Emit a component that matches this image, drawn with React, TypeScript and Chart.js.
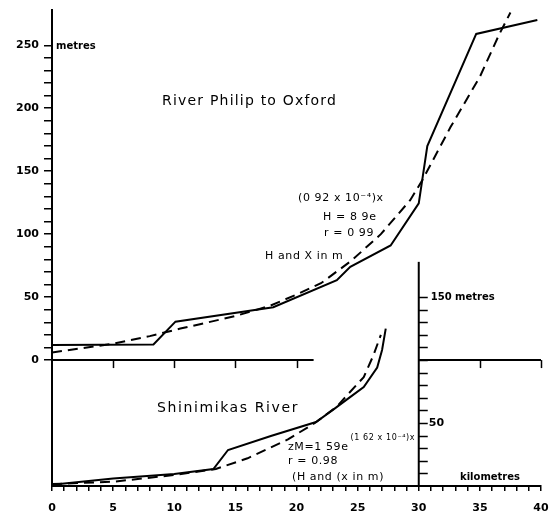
import React, { useEffect, useRef } from "react";
import { Chart, registerables } from "chart.js";

Chart.register(...registerables);

// River Philip to Oxford: surveyed long profile (distance km, height m)
const philipKm = [0, 8.3, 10.1, 18.1, 23.3, 24.4, 27.7, 30.0, 30.7, 34.7, 39.7];
const philipM = [12, 12.4, 30.5, 42, 63.5, 74, 91, 124.5, 170, 259, 270];
// River Philip fitted exponential profile
const philipFitKm = [0, 2.5, 5, 8, 10.5, 12.1, 15, 17.8, 20, 22, 24.5, 26.9, 29.3, 30.3, 32.6, 35, 36.6, 37.5];
const philipFitM = [6, 9.5, 13, 19, 25, 28.5, 35, 43, 52, 61, 79, 100, 127, 143, 185, 225, 259, 276];

// Shinimikas River: surveyed long profile
const shinKm = [0, 5, 10, 13.2, 14.4, 17.9, 21.6, 23.2, 24.3, 25.5, 26.6, 27.0, 27.3];
const shinM = [1, 6, 9.5, 13.5, 28.6, 39.7, 50.8, 62, 70, 78.6, 94, 108, 125];
// Shinimikas River fitted exponential profile
const shinFitKm = [0, 5, 10, 13.4, 16, 19.3, 21.5, 23.3, 24.0, 25.5, 26.3, 26.9];
const shinFitM = [1.5, 3.4, 8.7, 13.5, 22, 37, 50, 63, 70.6, 86.5, 104, 120];

// axis ticks
const upperHeightLabels = [0, 50, 100, 150, 200, 250];
const upperBaseSpans = [[0, 21.4], [30, 40]];
const upperBaseTicks = [5, 10, 15, 20, 35, 40];
const lowerAxisKm = 30;
const lowerAxisTop = 178;
const lowerAxisTicks = [10, 20, 30, 40, 50, 60, 70, 80, 90, 100, 110, 120, 130, 140, 150];

const FONT = "DejaVu Sans";

const toPoints = (xs: number[], ys: number[]) => xs.map((v, i) => ({ x: v, y: ys[i] }));

const profileArt = {
  id: "profileArt",
  afterDraw(chart: any) {
    const { ctx, scales } = chart;
    const x = scales.x;
    const y = scales.y;
    const yLow = scales.yLow;
    ctx.save();
    ctx.strokeStyle = "#000";
    ctx.fillStyle = "#000";
    ctx.lineWidth = 2;
    ctx.lineCap = "butt";

    // baseline of the upper profile
    const y0 = y.getPixelForValue(0);
    upperBaseSpans.forEach(([a, b]) => {
      ctx.beginPath();
      ctx.moveTo(x.getPixelForValue(a), y0);
      ctx.lineTo(x.getPixelForValue(b), y0);
      ctx.stroke();
    });
    ctx.lineWidth = 1.5;
    upperBaseTicks.forEach((k) => {
      const px = Math.round(x.getPixelForValue(k)) + 0.5;
      ctx.beginPath();
      ctx.moveTo(px, y0);
      ctx.lineTo(px, y0 + 8);
      ctx.stroke();
    });

    // height axis of the lower profile
    const ax = x.getPixelForValue(lowerAxisKm);
    ctx.lineWidth = 2;
    ctx.beginPath();
    ctx.moveTo(ax, yLow.getPixelForValue(0));
    ctx.lineTo(ax, yLow.getPixelForValue(lowerAxisTop));
    ctx.stroke();
    ctx.lineWidth = 1.5;
    lowerAxisTicks.forEach((v) => {
      const py = Math.round(yLow.getPixelForValue(v)) + 0.5;
      ctx.beginPath();
      ctx.moveTo(ax, py);
      ctx.lineTo(ax + 9, py);
      ctx.stroke();
    });

    ctx.textBaseline = "middle";
    ctx.textAlign = "left";
    ctx.font = `bold 10px ${FONT}`;
    ctx.fillText("150 metres", ax + 12, yLow.getPixelForValue(150));
    ctx.font = `bold 11px ${FONT}`;
    ctx.fillText("50", ax + 10, yLow.getPixelForValue(50));

    ctx.font = `bold 10px ${FONT}`;
    ctx.fillText("metres", 56, 46);
    ctx.fillText("kilometres", 460, 477);

    // titles
    ctx.font = `14px ${FONT}`;
    (ctx as any).letterSpacing = "1.2px";
    ctx.fillText("River Philip to Oxford", 162, 101);
    (ctx as any).letterSpacing = "1.6px";
    ctx.fillText("Shinimikas River", 157, 408);

    // fitted equations
    ctx.font = `11px ${FONT}`;
    (ctx as any).letterSpacing = "0.6px";
    ctx.fillText("(0 92 x 10\u207B\u2074)x", 298, 198);
    ctx.fillText("H = 8 9e", 323, 217);
    ctx.fillText("r = 0 99", 324, 233);
    ctx.fillText("H and X in m", 265, 256);

    ctx.fillText("zM=1 59e", 288, 447);
    const w = ctx.measureText("zM=1 59e").width;
    ctx.font = `8px ${FONT}`;
    ctx.fillText("(1 62 x 10\u207B\u2074)x", 288 + w + 2, 438);
    ctx.font = `11px ${FONT}`;
    ctx.fillText("r = 0.98", 288, 461);
    ctx.fillText("(H and (x in m)", 292, 477);
    ctx.restore();
  },
};

export default function App() {
  const ref = useRef<HTMLCanvasElement | null>(null);

  useEffect(() => {
    if (!ref.current) return;
    const line = (data: any[], axis: string, dashed: boolean) => ({
      data,
      yAxisID: axis,
      borderColor: "#000",
      borderWidth: 2,
      borderDash: dashed ? [10, 6] : [],
      pointRadius: 0,
      showLine: true,
      fill: false,
      tension: 0,
    });
    const chart = new Chart(ref.current, {
      type: "scatter",
      data: {
        datasets: [
          line(toPoints(philipKm, philipM), "y", false),
          line(toPoints(philipFitKm, philipFitM), "y", true),
          line(toPoints(shinKm, shinM), "yLow", false),
          line(toPoints(shinFitKm, shinFitM), "yLow", true),
        ],
      },
      options: {
        responsive: false,
        animation: false,
        events: [],
        layout: { padding: { left: 0, top: 10, right: 11, bottom: 0 } },
        plugins: { legend: { display: false }, tooltip: { enabled: false } },
        scales: {
          x: {
            type: "linear",
            min: 0,
            max: 40,
            position: "bottom",
            afterFit: (s: any) => {
              s.height = 28;
              s.paddingLeft = 0;
              s.paddingRight = 0;
            },
            border: { display: true, color: "#000", width: 2 },
            grid: { drawOnChartArea: false, drawTicks: true, tickLength: 5, color: "#000", lineWidth: 1.5 },
            ticks: {
              stepSize: 1,
              autoSkip: false,
              maxRotation: 0,
              padding: 11,
              color: "#000",
              font: { family: FONT, size: 11, weight: "bold" },
              callback: (v: any) => (Number(v) % 5 === 0 ? String(v) : ""),
            },
          },
          y: {
            type: "linear",
            min: -100,
            max: 278,
            position: "left",
            afterFit: (s: any) => {
              s.width = 52;
              s.paddingTop = 0;
              s.paddingBottom = 0;
            },
            border: { display: true, color: "#000", width: 2 },
            grid: {
              drawOnChartArea: false,
              tickLength: 8,
              lineWidth: 1.5,
              color: (c: any) =>
                c.tick && c.tick.value >= 0 && c.tick.value <= 250 ? "#000" : "rgba(0,0,0,0)",
            },
            ticks: {
              stepSize: 10,
              autoSkip: false,
              padding: 5,
              color: "#000",
              font: { family: FONT, size: 11, weight: "bold" },
              callback: (v: any) => (upperHeightLabels.includes(Number(v)) ? String(v) : ""),
            },
          },
          yLow: {
            type: "linear",
            min: 0,
            max: 378,
            display: false,
          },
        },
      },
      plugins: [profileArt],
    } as any);
    return () => chart.destroy();
  }, []);

  return (
    <div style={{ position: "fixed", left: 0, top: 0, width: 552, height: 514, background: "#fff" }}>
      <canvas ref={ref} width={552} height={514} style={{ width: 552, height: 514 }} />
    </div>
  );
}
